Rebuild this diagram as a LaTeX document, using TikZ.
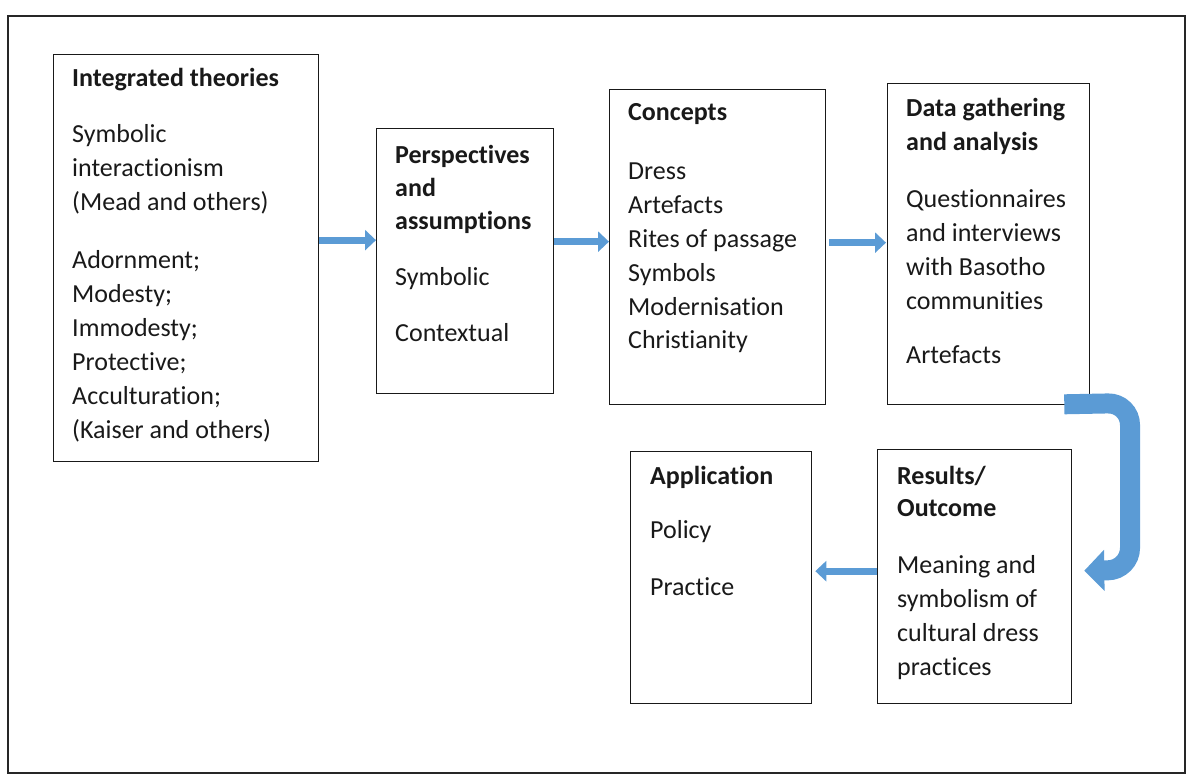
\documentclass[tikz,border=0pt]{standalone}
\usepackage{fontspec}
\setmainfont{Carlito}[Ligatures={NoCommon,NoContextual},RawFeature=-liga,RawFeature=-clig,RawFeature=-calt,RawFeature=-dlig]
\usetikzlibrary{arrows.meta}
\definecolor{arrowblue}{RGB}{91,155,213}
\newcommand\txtline[4]{\node[txt] (#1) at (#2,#3) {#4};}
\begin{document}
\begin{tikzpicture}[x=1pt,y=-1pt,
  frame/.style={draw=black!85,line width=1.4pt},
  box/.style={draw=black!90,line width=1.3pt,anchor=north west,inner sep=0pt},
  txt/.style={anchor=base west,inner sep=0pt,font=\fontsize{26}{34}\selectfont,text=black!90},
  blk/.style={draw=arrowblue,line width=7pt,-{Triangle[length=11pt,width=20pt]}},
  bigblk/.style={draw=arrowblue,line width=20pt,rounded corners=22pt,-{Triangle[length=20pt,width=40pt]}}]
\useasboundingbox (0,0) rectangle (1192,776);
\draw[frame] (8,16) rectangle (1185,773);
% boxes
\node[box,minimum width=265pt,minimum height=407pt] (b1) at (53,54) {};
\node[box,minimum width=177pt,minimum height=265pt] (b2) at (376,128) {};
\node[box,minimum width=216pt,minimum height=315pt] (b3) at (609,89) {};
\node[box,minimum width=202pt,minimum height=321pt] (b4) at (887,83) {};
\node[box,minimum width=194pt,minimum height=254pt] (b5) at (877,449) {};
\node[box,minimum width=181pt,minimum height=252pt] (b6) at (630,451) {};
% box 1 text
\txtline{b1h}{72}{86}{\bfseries Integrated theories}
\txtline{b1a}{72}{142}{Symbolic}
\txtline{b1b}{72}{176}{interactionism}
\txtline{b1c}{72}{210}{(Mead and others)}
\txtline{b1d}{72}{268}{Adornment;}
\txtline{b1e}{72}{302}{Modesty;}
\txtline{b1f}{72}{336}{Immodesty;}
\txtline{b1g}{72}{370}{Protective;}
\txtline{b1i}{72}{404}{Acculturation;}
\txtline{b1j}{72}{438}{(Kaiser and others)}
% box 2 text
\txtline{b2h}{395}{163}{\bfseries Perspectives}
\txtline{b2i}{395}{196}{\bfseries and}
\txtline{b2j}{395}{229}{\bfseries assumptions}
\txtline{b2a}{395}{285}{Symbolic}
\txtline{b2b}{395}{341}{Contextual}
% box 3 text
\txtline{b3h}{628}{121}{\bfseries Concepts}
\txtline{b3a}{628}{179}{Dress}
\txtline{b3b}{628}{213}{Artefacts}
\txtline{b3c}{628}{247}{Rites of passage}
\txtline{b3d}{628}{281}{Symbols}
\txtline{b3e}{628}{315}{Modernisation}
\txtline{b3f}{628}{348}{Christianity}
% box 4 text
\txtline{b4h}{906}{117}{\bfseries Data gathering}
\txtline{b4i}{906}{150}{\bfseries and analysis}
\txtline{b4a}{906}{207}{Questionnaires}
\txtline{b4b}{906}{241}{and interviews}
\txtline{b4c}{906}{275}{with Basotho}
\txtline{b4d}{906}{309}{communities}
\txtline{b4e}{906}{363}{Artefacts}
% box 5 text
\txtline{b5h}{897}{484}{\bfseries Results/}
\txtline{b5i}{897}{516}{\bfseries Outcome}
\txtline{b5a}{897}{573}{Meaning and}
\txtline{b5b}{897}{607}{symbolism of}
\txtline{b5c}{897}{641}{cultural dress}
\txtline{b5d}{897}{675}{practices}
% box 6 text
\txtline{b6h}{650}{484}{\bfseries Application}
\txtline{b6a}{650}{538}{Policy}
\txtline{b6b}{650}{595}{Practice}
% arrows
\draw[blk] ([yshift=18pt]b1.east) coordinate (a1) -- (a1 -| b2.west);
\draw[blk] ([yshift=19.5pt]b2.east) coordinate (a2) -- (a2 -| b3.west);
\draw[blk] ([xshift=3pt,yshift=4.5pt]b3.east) coordinate (a3) -- ([xshift=-1pt]a3 -| b4.west);
\draw[blk] ([yshift=5.5pt]b5.west) coordinate (a4) -- ([xshift=3pt]a4 -| b6.east);
\coordinate (c1) at ([xshift=-26pt,yshift=1pt]b4.south east);
\coordinate (c2) at ([xshift=12pt,yshift=6pt]b5.east);
\draw[bigblk] (c1) -- (1130,403) -- (1130,570) -- (c2);
\end{tikzpicture}
\end{document}
